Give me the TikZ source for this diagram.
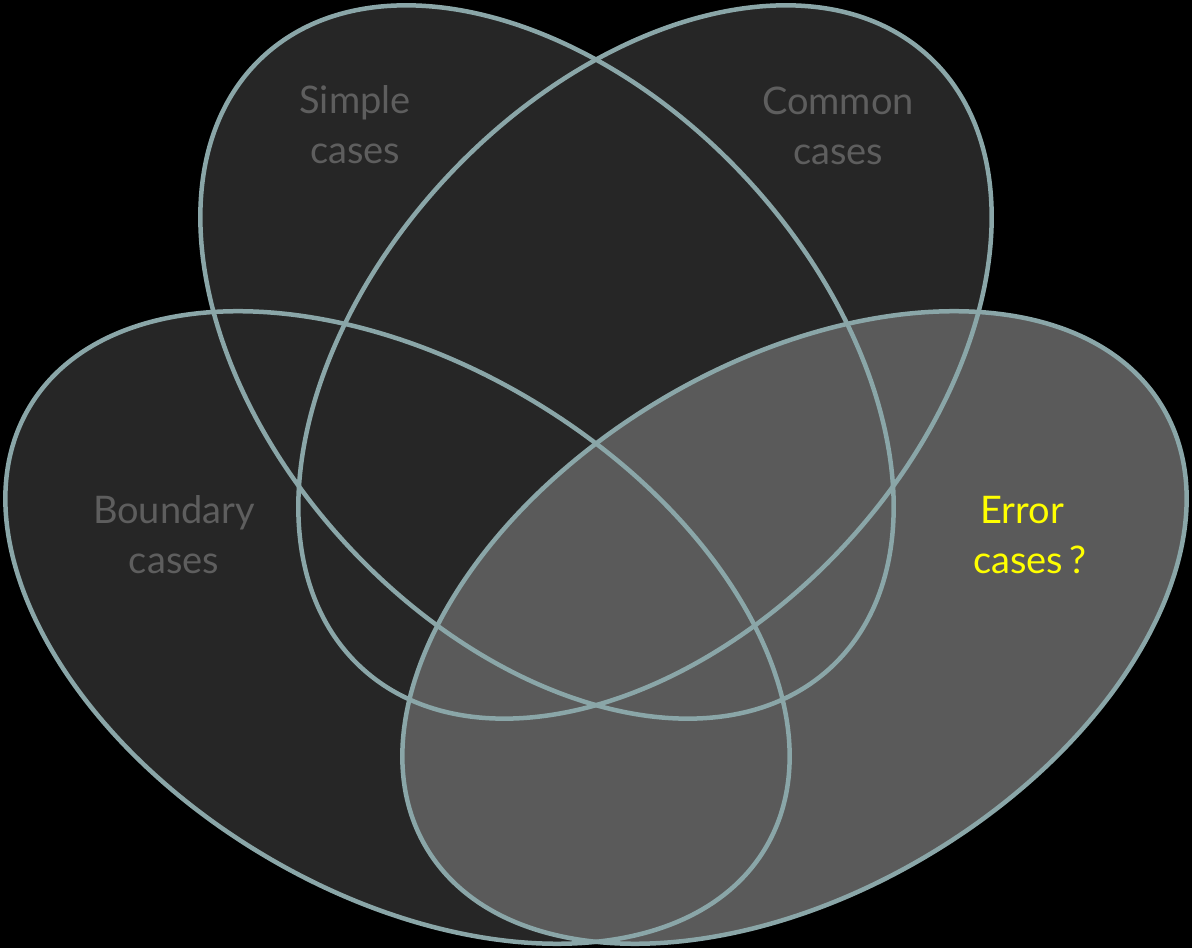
\documentclass[tikz,border=0pt]{standalone}
\usepackage{fontspec}
\usepackage{tikz}
\newfontfamily\vennfont{Lato}

\definecolor{setdark}{HTML}{262626}
\definecolor{setlight}{HTML}{5A5A5A}
\definecolor{setedge}{HTML}{8AA6A8}
\definecolor{labelgray}{HTML}{5E5E5E}
\definecolor{labelyellow}{HTML}{FFFF00}

\tikzset{
	setline/.style={draw=setedge, line width=4.5pt},
	setlabel/.style={font=\vennfont\fontsize{38}{50}\selectfont, text=labelgray, align=center, inner sep=0pt},
}

\begin{document}
\begin{tikzpicture}[x=1pt,y=1pt]

	\useasboundingbox (0,0) rectangle (1192,948);
	\fill[black] (0,0) rectangle (1192,948);

	% centres of the four sets
	\coordinate (simple) at (547,586);
	\coordinate (common) at (645,586);
	\coordinate (boundary) at (397.5,320.5);
	\coordinate (error) at (794.5,320.5);

	\foreach \s / \r / \a / \b in {
	simple/-47/417/271,
	common/47/417/271,
	boundary/-31/429/264}
	{
		\fill[setdark, rotate around={\r:(\s)}] (\s) ellipse [x radius=\a pt, y radius=\b pt];
	};
	\fill[setlight, rotate around={31:(error)}] (error) ellipse [x radius=429pt, y radius=264pt];

	\foreach \s / \r / \a / \b in {
	simple/-47/417/271,
	common/47/417/271,
	boundary/-31/429/264,
	error/31/429/264}
	{
		\draw[setline, rotate around={\r:(\s)}] (\s) ellipse [x radius=\a pt, y radius=\b pt];
	};

	\node[setlabel] (simplelabel) at (355,823) {Simple\\cases};
	\node[setlabel] (commonlabel) at (838,822) {Common\\cases};
	\node[setlabel] (boundarylabel) at (174,413) {Boundary\\cases};
	\node[setlabel, text=labelyellow, align=left, anchor=west] (errorlabel) at (973,413) {\hspace{7pt}Error\\cases\,?};

\end{tikzpicture}
\end{document}
